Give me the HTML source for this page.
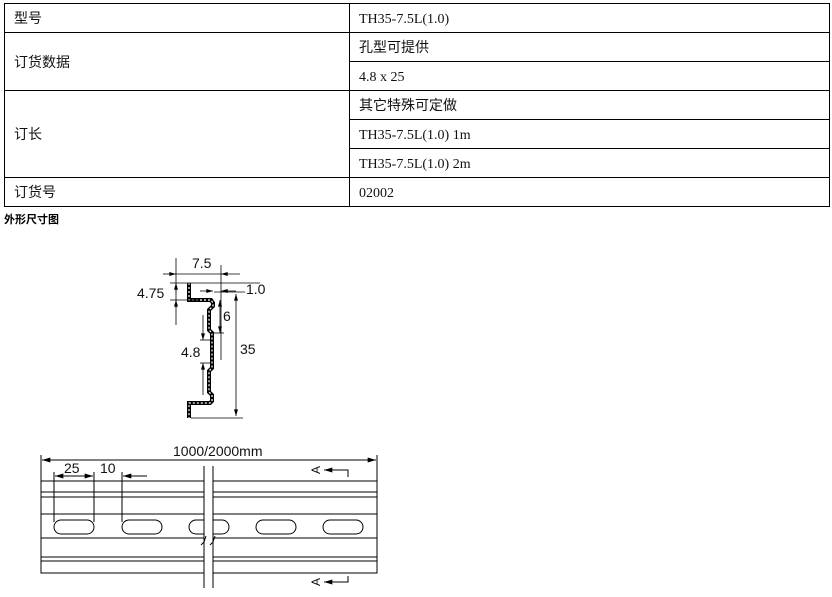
<!DOCTYPE html>
<html><head><meta charset="utf-8"><style>
body{margin:0;background:#fff;width:832px;height:597px;overflow:hidden}
svg{position:absolute;left:0;top:0}
.cj{font-family:"Liberation Sans","Noto Sans CJK SC",sans-serif;font-size:14px;fill:#111}
.sf{font-family:"Liberation Serif",serif;font-size:14px;fill:#111}
.d{font-family:"Liberation Sans",sans-serif;font-size:14px;fill:#111}
</style></head><body>
<svg width="832" height="597" viewBox="0 0 832 597">
<defs><marker id="a" viewBox="0 0 10 6" refX="10" refY="3" markerWidth="9" markerHeight="5" orient="auto-start-reverse"><path d="M0,0L10,3L0,6z" fill="#000"/></marker></defs>
<g stroke="#000" stroke-width="1" fill="none">
<rect x="4.5" y="3.5" width="825" height="203"/>
<line x1="349.5" y1="3" x2="349.5" y2="206"/>
<line x1="4" y1="32.5" x2="829" y2="32.5"/>
<line x1="349" y1="61.5" x2="829" y2="61.5"/>
<line x1="4" y1="90.5" x2="829" y2="90.5"/>
<line x1="349" y1="119.5" x2="829" y2="119.5"/>
<line x1="349" y1="148.5" x2="829" y2="148.5"/>
<line x1="4" y1="177.5" x2="829" y2="177.5"/>
</g>
<text class="cj" x="14" y="23">型号</text>
<text class="cj" x="14" y="67">订货数据</text>
<text class="cj" x="14" y="139">订长</text>
<text class="cj" x="14" y="197">订货号</text>
<text class="sf" x="359" y="23">TH35-7.5L(1.0)</text>
<text class="cj" x="359" y="52">孔型可提供</text>
<text class="sf" x="359" y="81">4.8 x 25</text>
<text class="cj" x="359" y="110">其它特殊可定做</text>
<text class="sf" x="359" y="139">TH35-7.5L(1.0) 1m</text>
<text class="sf" x="359" y="168">TH35-7.5L(1.0) 2m</text>
<text class="sf" x="359" y="197">02002</text>
<text x="4" y="223" style="font-family:'Liberation Sans','Noto Sans CJK SC',sans-serif;font-size:11px;font-weight:bold">外形尺寸图</text>

<!-- profile -->
<path d="M189,283 V300 H211 L213,303 V306 L209,310 V330 L212,333 V368 L209,371 V392 L212,395 V401 L210,403 H189 V418" fill="none" stroke="#000" stroke-width="4"/>
<path d="M189,283 V300 H211 L213,303 V306 L209,310 V330 L212,333 V368 L209,371 V392 L212,395 V401 L210,403 H189 V418" fill="none" stroke="#fff" stroke-width="1.2" stroke-dasharray="2 2"/>
<g stroke="#000" stroke-width="0.8" fill="none">
<line x1="176" y1="258" x2="176" y2="325"/>
<line x1="221" y1="265" x2="221" y2="360"/>
<line x1="163" y1="274" x2="176" y2="274" marker-end="url(#a)"/>
<line x1="240" y1="274" x2="221" y2="274" marker-end="url(#a)"/>
<line x1="176" y1="274" x2="221" y2="274"/>
<line x1="170" y1="283" x2="260" y2="283"/>
<line x1="170" y1="300" x2="200" y2="300"/>
<line x1="176" y1="292" x2="176" y2="283" marker-end="url(#a)"/>
<line x1="176" y1="308" x2="176" y2="300" marker-end="url(#a)"/>
<line x1="200" y1="291" x2="213" y2="291" marker-end="url(#a)"/>
<line x1="236" y1="291" x2="221" y2="291" marker-end="url(#a)"/>
<line x1="214" y1="292" x2="245" y2="292"/>
<line x1="220" y1="300" x2="220" y2="333" marker-start="url(#a)" marker-end="url(#a)"/>
<line x1="214" y1="333" x2="224" y2="333"/>
<line x1="203" y1="315" x2="203" y2="340" marker-end="url(#a)"/>
<line x1="203" y1="395" x2="203" y2="363" marker-end="url(#a)"/>
<line x1="200" y1="340" x2="210" y2="340"/>
<line x1="200" y1="363" x2="210" y2="363"/>
<line x1="236" y1="294" x2="236" y2="416" marker-start="url(#a)" marker-end="url(#a)"/>
<line x1="191" y1="418" x2="243" y2="418"/>
</g>
<text class="d" x="192" y="268">7.5</text>
<text class="d" x="137" y="298">4.75</text>
<text class="d" x="246" y="294">1.0</text>
<text class="d" x="223" y="321">6</text>
<text class="d" x="181" y="357">4.8</text>
<text class="d" x="240" y="354">35</text>

<!-- rail -->
<g stroke="#000" stroke-width="1" fill="none">
<rect x="41" y="481" width="336" height="92"/>
<line x1="41" y1="492" x2="377" y2="492"/>
<line x1="41" y1="497" x2="377" y2="497"/>
<line x1="41" y1="514" x2="377" y2="514"/>
<line x1="41" y1="538" x2="377" y2="538"/>
<line x1="41" y1="557" x2="377" y2="557"/>
<line x1="41" y1="561" x2="377" y2="561"/>
<rect x="54" y="520" width="40" height="14" rx="7"/>
<rect x="122" y="520" width="40" height="14" rx="7"/>
<rect x="189" y="520" width="40" height="14" rx="7"/>
<rect x="256" y="520" width="40" height="14" rx="7"/>
<rect x="323" y="520" width="40" height="14" rx="7"/>
</g>
<rect x="204" y="466" width="9" height="122" fill="#fff"/>
<g stroke="#000" stroke-width="1" fill="none">
<line x1="204" y1="466" x2="204" y2="588"/>
<line x1="213" y1="466" x2="213" y2="588"/>
<path d="M206,536 L204,542 L201,545"/>
<path d="M215,536 L213,542 L210,545"/>
<line x1="41" y1="455" x2="41" y2="481"/>
<line x1="377" y1="455" x2="377" y2="481"/>
<line x1="42" y1="460" x2="376" y2="460" marker-start="url(#a)" marker-end="url(#a)"/>
<line x1="54" y1="472" x2="54" y2="522"/>
<line x1="94" y1="472" x2="94" y2="522"/>
<line x1="122" y1="472" x2="122" y2="522"/>
<line x1="55" y1="476" x2="93" y2="476" marker-start="url(#a)" marker-end="url(#a)"/>
<line x1="147" y1="476" x2="123" y2="476" marker-end="url(#a)"/>
<path d="M348,477 V470 H324" marker-end="url(#a)"/>
<path d="M348,576 V582 H324" marker-end="url(#a)"/>
</g>
<text class="d" x="173" y="456">1000/2000mm</text>
<text class="d" x="64" y="473">25</text>
<text class="d" x="100" y="473">10</text>
<text class="d" transform="translate(316,470) rotate(-90)" text-anchor="middle" y="4" style="font-size:12px">A</text>
<text class="d" transform="translate(316,582) rotate(-90)" text-anchor="middle" y="4" style="font-size:12px">A</text>
</svg>
</body></html>
